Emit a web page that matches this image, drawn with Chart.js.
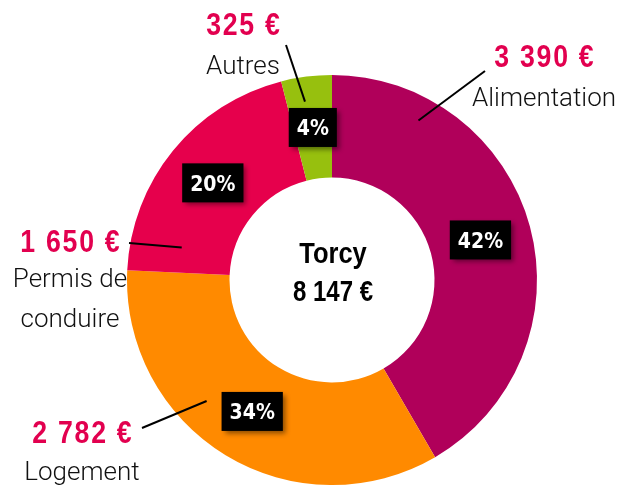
<!DOCTYPE html>
<html><head><meta charset="utf-8">
<script src="https://cdn.jsdelivr.net/npm/chart.js@4"></script>
<style>html,body{margin:0;padding:0;background:#fff;}canvas{display:block;}</style>
</head><body>
<canvas id="c" width="631" height="487"></canvas>
<script>
const categories = ["Alimentation", "Logement", "Permis de conduire", "Autres"];
const values = [3390, 2782, 1650, 325];
const valueLabels = ["3 390 €", "2 782 €", "1 650 €", "325 €"];
const nameLines = [["Alimentation"], ["Logement"], ["Permis de", "conduire"], ["Autres"]];
const percentLabels = ["42%", "34%", "20%", "4%"];
const centerTitle = "Torcy";
const centerTotal = "8 147 €";
const colors = ["#B0005A", "#FF8A00", "#E6004C", "#97C00E"];

// annotation layout (text anchors, leader lines)
const labelLayout = [
  {cx: 544, vy: 67, ny: [106], lineOut: [485, 71], f: 0.19, g: 0.77},
  {cx: 82, vy: 443, ny: [480], lineOut: [142, 428], f: 0.62, g: 0.70},
  {cx: 70, vy: 252, ny: [287, 327], lineOut: [129, 243], f: 0.13, g: 0.50},
  {cx: 243, vy: 35, ny: [74], lineOut: [286, 45], f: 0.40, g: 0.76}
];

const BOLD = '"Liberation Sans", Arial, sans-serif';
const REG = 'Roboto, "Liberation Sans", sans-serif';

function squeezeText(ctx, text, x, y, sx, spacing) {
  ctx.save();
  ctx.letterSpacing = spacing + 'px';
  ctx.translate(x, y);
  ctx.scale(sx, 1);
  ctx.fillText(text, spacing / 2, 0);
  ctx.restore();
}

const labelPlugin = {
  id: 'labels',
  afterDatasetsDraw(chart) {
    const ctx = chart.ctx;
    const meta = chart.getDatasetMeta(0);
    ctx.save();
    meta.data.forEach((arc, i) => {
      const L = labelLayout[i];
      const p = arc.getProps(['x','y','startAngle','endAngle','innerRadius','outerRadius'], true);
      const a = p.startAngle + L.f * (p.endAngle - p.startAngle);
      const r = p.innerRadius + L.g * (p.outerRadius - p.innerRadius);
      const ix = p.x + r * Math.cos(a), iy = p.y + r * Math.sin(a);
      ctx.beginPath();
      ctx.moveTo(L.lineOut[0], L.lineOut[1]);
      ctx.lineTo(ix, iy);
      ctx.strokeStyle = '#000';
      ctx.lineWidth = 2;
      ctx.stroke();
      ctx.textAlign = 'center';
      ctx.textBaseline = 'alphabetic';
      ctx.fillStyle = '#E2004F';
      ctx.font = 'bold 31px ' + BOLD;
      squeezeText(ctx, valueLabels[i], L.cx, L.vy, 0.86, 2);
      ctx.fillStyle = '#111';
      ctx.font = '300 26px ' + REG;
      nameLines[i].forEach((t, k) => ctx.fillText(t, L.cx, L.ny[k]));
    });
    meta.data.forEach((arc, i) => {
      const pos = arc.tooltipPosition(true);
      ctx.font = 'bold 22px "DejaVu Sans", sans-serif';
      const sx = 0.86;
      const w = ctx.measureText(percentLabels[i]).width * sx + 16;
      const h = 39;
      ctx.save();
      ctx.shadowColor = 'rgba(0,0,0,0.45)';
      ctx.shadowBlur = 5;
      ctx.shadowOffsetX = 3;
      ctx.shadowOffsetY = 3;
      ctx.fillStyle = '#000';
      ctx.fillRect(pos.x - w / 2, pos.y - h / 2, w, h);
      ctx.restore();
      ctx.fillStyle = '#fff';
      ctx.textAlign = 'center';
      ctx.textBaseline = 'alphabetic';
      squeezeText(ctx, percentLabels[i], pos.x, pos.y + 8, sx, 0);
    });
    const c = meta.data[0];
    ctx.fillStyle = '#000';
    ctx.textAlign = 'center';
    ctx.textBaseline = 'alphabetic';
    ctx.font = 'bold 30px ' + BOLD;
    squeezeText(ctx, centerTitle, c.x + 1, c.y - 17, 0.85, 0);
    squeezeText(ctx, centerTotal, c.x + 1, c.y + 21, 0.80, 0);
    ctx.restore();
  }
};

new Chart(document.getElementById('c'), {
  type: 'doughnut',
  data: {
    labels: categories,
    datasets: [{
      data: values,
      backgroundColor: colors,
      borderWidth: 0,
      hoverOffset: 0
    }]
  },
  options: {
    responsive: false,
    devicePixelRatio: 1,
    animation: false,
    cutout: '50%',
    layout: {padding: {left: 127, right: 94, top: 75, bottom: 2}},
    plugins: {legend: {display: false}, tooltip: {enabled: false}}
  },
  plugins: [labelPlugin]
});
</script>
</body></html>
